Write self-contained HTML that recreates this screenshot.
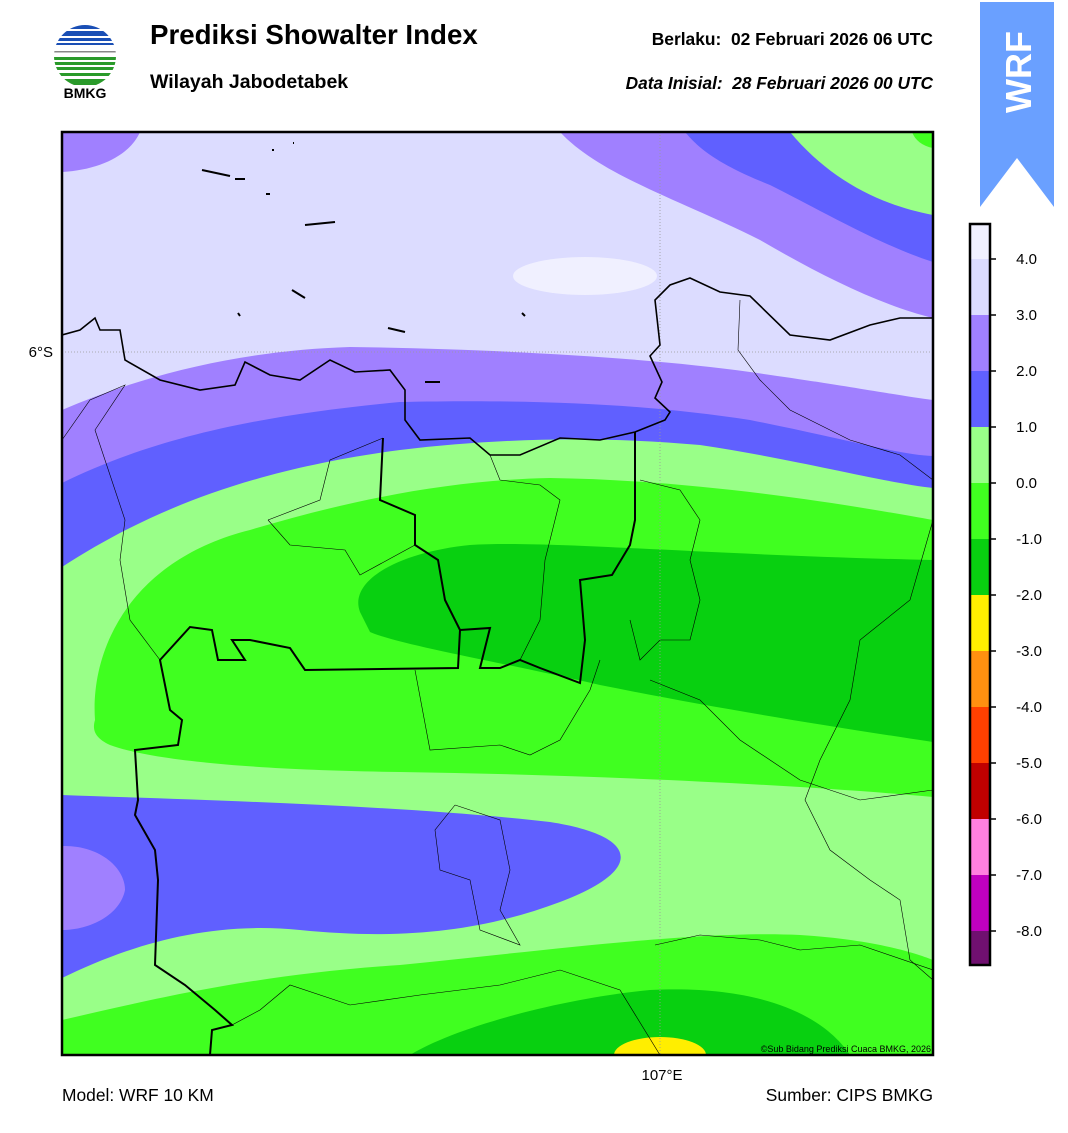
<!DOCTYPE html>
<html><head><meta charset="utf-8"><style>
body{margin:0;background:#fff;width:1068px;height:1128px;overflow:hidden;font-family:"Liberation Sans",Arial,sans-serif}
</style></head><body>
<svg width="1068" height="1128" xmlns="http://www.w3.org/2000/svg" font-family="Liberation Sans, Arial, sans-serif">
<defs><clipPath id="lc"><circle cx="85" cy="56" r="31"/></clipPath><clipPath id="mc"><rect x="62" y="132" width="871" height="923"/></clipPath></defs>
<g clip-path="url(#lc)">
<rect x="50" y="22" width="70" height="7" fill="#1a4fb5"/>
<rect x="50" y="31" width="70" height="5" fill="#1a4fb5"/>
<rect x="50" y="38" width="70" height="3" fill="#1a4fb5"/>
<rect x="50" y="43" width="70" height="2" fill="#1a4fb5"/>
<rect x="50" y="51" width="70" height="1.5" fill="#888"/>
<rect x="50" y="57" width="70" height="3" fill="#2a9a2a"/>
<rect x="50" y="62" width="70" height="3" fill="#2a9a2a"/>
<rect x="50" y="67" width="70" height="3" fill="#2a9a2a"/>
<rect x="50" y="73" width="70" height="3" fill="#2a9a2a"/>
<rect x="50" y="79" width="70" height="6" fill="#2a9a2a"/>
</g>
<text x="85" y="98" font-size="14" font-weight="bold" text-anchor="middle">BMKG</text>
<text x="150" y="44" font-size="27.7" font-weight="bold">Prediksi Showalter Index</text>
<text x="150" y="88" font-size="19.5" font-weight="bold">Wilayah Jabodetabek</text>
<text x="933" y="45" font-size="17.4" font-weight="bold" text-anchor="end" xml:space="preserve">Berlaku:  02 Februari 2026 06 UTC</text>
<text x="933" y="89" font-size="17.3" font-weight="bold" font-style="italic" text-anchor="end" xml:space="preserve">Data Inisial:  28 Februari 2026 00 UTC</text>
<polygon points="980,2 1054,2 1054,207 1017,158 980,207" fill="#6aa0ff"/>
<text x="1031" y="113" font-size="36" font-weight="bold" fill="#fff" transform="rotate(-90 1031 113)">WRF</text>
<g clip-path="url(#mc)">
<rect x="62" y="132" width="871" height="923" fill="#dcdcff"/>
<path d="M62,132 L140,132 C130,155 100,170 62,172 Z" fill="#a080ff"/>
<path d="M560,132 L933,132 L933,318 C880,305 820,275 760,240 C680,200 600,175 560,132 Z" fill="#a080ff"/>
<path d="M685,132 L933,132 L933,262 C880,245 820,210 770,185 C720,165 700,150 685,132 Z" fill="#6060ff"/>
<path d="M790,132 L933,132 L933,215 C880,205 830,180 790,132 Z" fill="#99ff88"/>
<path d="M912,132 L933,132 L933,148 C922,146 915,140 912,132 Z" fill="#40ff20"/>
<ellipse cx="585" cy="276" rx="72" ry="19" fill="#f0f0ff"/>
<path d="M62,410 C150,372 250,350 350,347 C500,349 650,358 750,372 C850,386 900,396 933,400 L933,1055 L62,1055 Z" fill="#a080ff"/>
<path d="M62,483 C150,440 250,416 400,402 C550,399 650,405 750,420 C850,440 900,455 933,456 L933,1055 L62,1055 Z" fill="#6060ff"/>
<path d="M62,567 C150,510 250,470 400,450 C500,438 600,436 700,445 C800,460 880,482 933,488 L933,1055 L62,1055 Z" fill="#99ff88"/>
<path d="M95,720 C90,650 130,560 250,530 C350,500 450,480 550,478 C700,480 850,505 933,520 L933,797 C800,785 600,775 400,772 C250,770 150,760 110,745 C95,738 92,730 95,720 Z" fill="#40ff20"/>
<path d="M360,612 C348,580 400,552 470,545 C550,540 700,555 933,560 L933,742 C800,722 700,705 600,685 C500,662 400,645 370,632 Z" fill="#08d010"/>
<path d="M62,795 C200,800 400,805 550,822 C640,836 645,870 560,902 C480,932 400,940 300,930 C200,920 120,950 62,978 Z" fill="#6060ff"/>
<path d="M62,846 C100,845 125,868 125,890 C120,915 90,930 62,930 Z" fill="#a080ff"/>
<path d="M62,1020 C150,1000 250,975 400,965 C550,950 700,930 800,935 C880,940 920,955 933,960 L933,1055 L62,1055 Z" fill="#40ff20"/>
<path d="M410,1055 C450,1030 550,1000 650,990 C750,985 820,1010 850,1055 Z" fill="#08d010"/>
<ellipse cx="660" cy="1055" rx="46" ry="18" fill="#ffee00"/>
<line x1="660" y1="132" x2="660" y2="1055" stroke="#999" stroke-width="0.8" stroke-dasharray="1,2"/>
<line x1="62" y1="352" x2="933" y2="352" stroke="#999" stroke-width="0.8" stroke-dasharray="1,2"/>
<g fill="none" stroke="#000" stroke-width="1.6">
<polyline points="62,335 80,330 95,318 100,330 120,330 125,360 160,380 200,390 235,385 245,362 270,375 300,380 330,360 355,372 390,370 405,390 405,420 420,440 470,438 490,455 520,455 560,438 600,440 635,432 665,420 670,412 655,398 662,382 650,356 660,345 655,300 670,285 690,278 720,292 750,296 790,335 830,340 870,325 900,318 933,318"/>
<polyline points="383,438 380,500 415,515 415,545 438,560 445,600 460,630 458,668 305,670 290,648 250,640 232,640 245,660 218,660 212,630 190,627 160,660 170,710 182,720 178,745 135,750 138,800 135,815 155,850 158,880 155,965 185,985 215,1010 232,1025 212,1030 210,1055" stroke-width="2"/>
<polyline points="460,630 490,628 480,668 500,668 520,660 540,668 580,683 585,640 580,580 612,575 630,545 635,520 635,432" stroke-width="2"/>
<path d="M202,170 L230,176 M235,179 L245,179 M266,194 L270,194 M305,225 L335,222 M292,290 L305,298 M238,313 L240,316 M388,328 L405,332 M425,382 L440,382 M522,313 L525,316 M272,150 L274,150 M293,143 L294,143" stroke-width="2"/>
</g>
<g fill="none" stroke="#000" stroke-width="0.6">
<polyline points="62,440 90,400 125,385 95,430 125,520 120,560 130,620 160,660"/>
<polyline points="268,520 320,500 330,460 383,438"/>
<polyline points="268,520 290,545 345,550 360,575 415,545"/>
<polyline points="415,670 430,750 500,745 530,755 560,740 590,690 600,660"/>
<polyline points="490,455 500,480 540,485 560,500 545,560 540,620 520,660"/>
<polyline points="650,680 700,700 740,740 800,780 860,800 933,790"/>
<polyline points="740,300 738,350 760,380 790,410 850,440 900,455 933,480"/>
<polyline points="630,620 640,660 660,640 690,640 700,600 690,560 700,520 680,490 640,480"/>
<polyline points="933,520 910,600 860,640 850,700 820,760 805,800 830,850 870,880 900,900 910,960 933,980"/>
<polyline points="455,805 500,820 510,870 500,910 520,945 480,930 470,880 440,870 435,830 455,805"/>
<polyline points="232,1025 260,1010 290,985 350,1005 420,995 500,985 560,970 620,990 660,1055"/>
<polyline points="655,945 700,935 760,940 800,950 860,945 933,970"/>
</g>
<text x="931" y="1052" font-size="9" text-anchor="end">©Sub Bidang Prediksi Cuaca BMKG, 2026</text>
</g>
<rect x="62" y="132" width="871" height="923" fill="none" stroke="#000" stroke-width="2.5"/>
<text x="53" y="357" font-size="15" text-anchor="end">6°S</text>
<text x="662" y="1080" font-size="15" text-anchor="middle">107°E</text>
<text x="62" y="1101" font-size="17.4">Model: WRF 10 KM</text>
<text x="933" y="1101" font-size="17.4" text-anchor="end">Sumber: CIPS BMKG</text>
<rect x="970" y="224" width="20" height="35" fill="#f0f0ff"/>
<rect x="970" y="259" width="20" height="56" fill="#dcdcff"/>
<rect x="970" y="315" width="20" height="56" fill="#a080ff"/>
<rect x="970" y="371" width="20" height="56" fill="#6060ff"/>
<rect x="970" y="427" width="20" height="56" fill="#99ff88"/>
<rect x="970" y="483" width="20" height="56" fill="#40ff20"/>
<rect x="970" y="539" width="20" height="56" fill="#08d010"/>
<rect x="970" y="595" width="20" height="56" fill="#ffee00"/>
<rect x="970" y="651" width="20" height="56" fill="#ff9010"/>
<rect x="970" y="707" width="20" height="56" fill="#ff4000"/>
<rect x="970" y="763" width="20" height="56" fill="#c00000"/>
<rect x="970" y="819" width="20" height="56" fill="#ff80e0"/>
<rect x="970" y="875" width="20" height="56" fill="#c000c0"/>
<rect x="970" y="931" width="20" height="34" fill="#701070"/>
<rect x="970" y="224" width="20" height="741" fill="none" stroke="#000" stroke-width="2.5"/>
<g stroke="#000" stroke-width="1.5">
<line x1="990" y1="259" x2="996" y2="259"/><line x1="990" y1="315" x2="996" y2="315"/><line x1="990" y1="371" x2="996" y2="371"/><line x1="990" y1="427" x2="996" y2="427"/><line x1="990" y1="483" x2="996" y2="483"/><line x1="990" y1="539" x2="996" y2="539"/><line x1="990" y1="595" x2="996" y2="595"/><line x1="990" y1="651" x2="996" y2="651"/><line x1="990" y1="707" x2="996" y2="707"/><line x1="990" y1="763" x2="996" y2="763"/><line x1="990" y1="819" x2="996" y2="819"/><line x1="990" y1="875" x2="996" y2="875"/><line x1="990" y1="931" x2="996" y2="931"/>
</g>
<g font-size="15" text-anchor="end">
<text x="1037" y="264">4.0</text><text x="1037" y="320">3.0</text><text x="1037" y="376">2.0</text><text x="1037" y="432">1.0</text><text x="1037" y="488">0.0</text><text x="1042" y="544">-1.0</text><text x="1042" y="600">-2.0</text><text x="1042" y="656">-3.0</text><text x="1042" y="712">-4.0</text><text x="1042" y="768">-5.0</text><text x="1042" y="824">-6.0</text><text x="1042" y="880">-7.0</text><text x="1042" y="936">-8.0</text>
</g>
</svg>
</body></html>
